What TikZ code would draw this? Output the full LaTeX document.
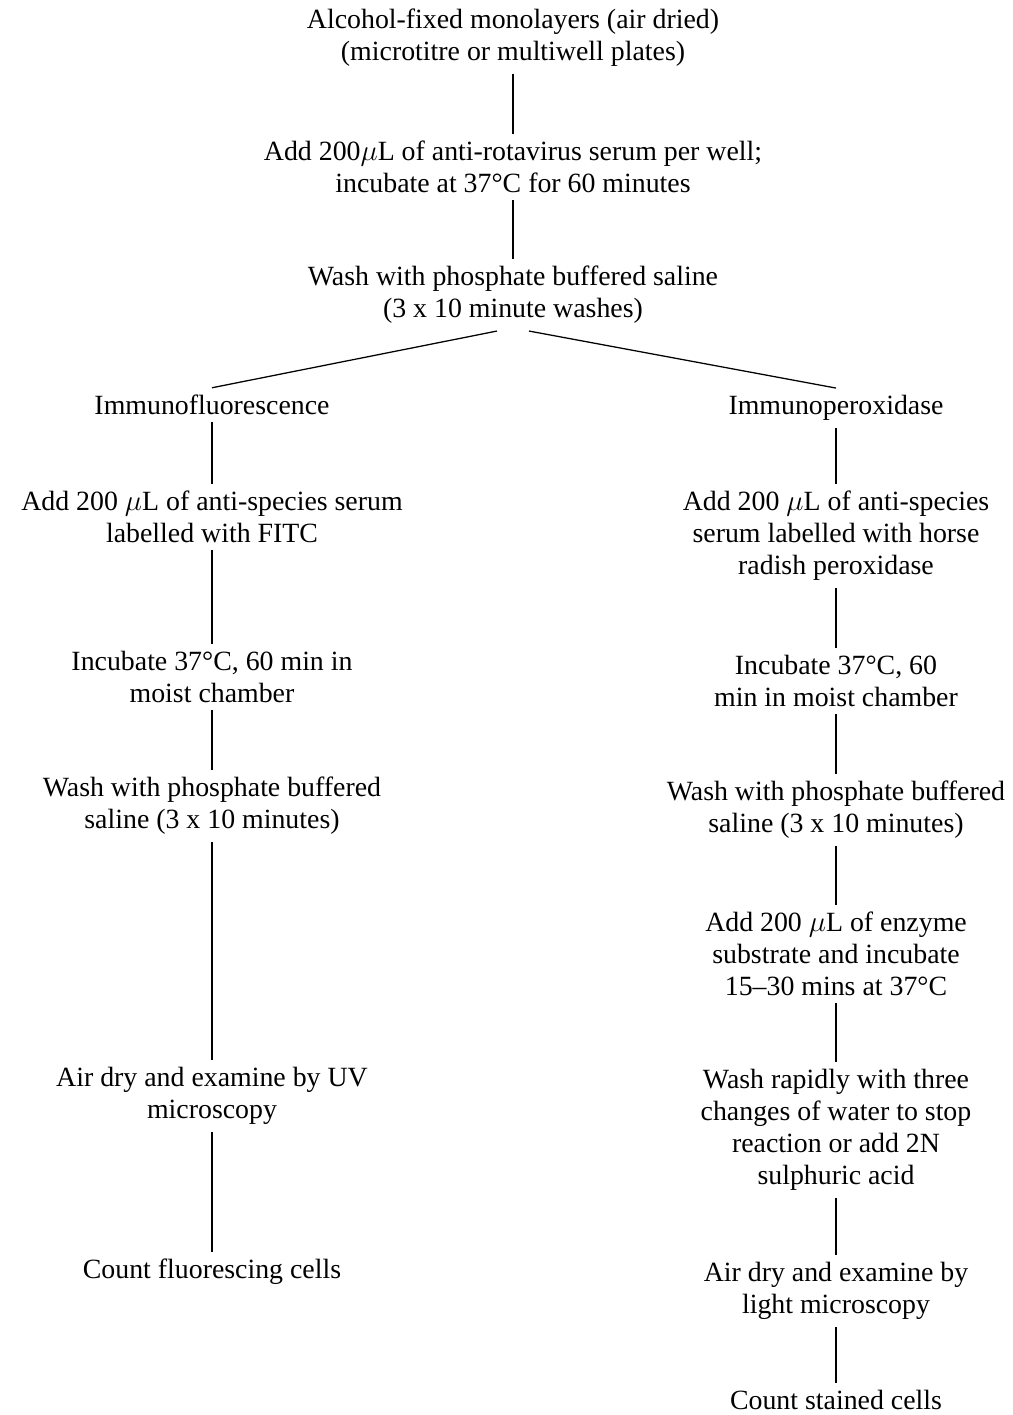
\documentclass[tikz,border=0pt]{standalone}
\usepackage{fontspec}
\setmainfont{Liberation Serif}
\usetikzlibrary{positioning}

\begin{document}
\begin{tikzpicture}[
        x=0.025cm, y=-0.025cm,
        stage/.style={align=center, inner xsep=0pt, inner ysep=5pt,
          font=\fontsize{19.8}{22.7}\selectfont},
        link/.style={line width=0.9pt}
        ]
        \useasboundingbox (0,0) rectangle (1013,1415);

        % common trunk
        \node[stage] (top)    at (513,38)  {Alcohol-fixed monolayers (air dried)\\(microtitre or multiwell plates)};
        \node[stage] (serum)  at (513,167) {Add 200$\mu$L of anti-rotavirus serum per well;\\incubate at 37°C for 60 minutes};
        \node[stage] (wash)   at (513,295) {Wash with phosphate buffered saline\\(3 x 10 minute washes)};

        % immunofluorescence
        \node[stage] (fluor)  at (212,405)  {Immunofluorescence};
        \node[stage] (fitc)   at (212,517)  {Add 200 $\mu$L of anti-species serum\\labelled with FITC};
        \node[stage] (incL)   at (212,677)  {Incubate 37°C, 60 min in\\moist chamber};
        \node[stage] (washL)  at (212,806)  {Wash with phosphate buffered\\saline (3 x 10 minutes)};
        \node[stage] (uv)     at (212,1096) {Air dry and examine by UV\\microscopy};
        \node[stage] (countL) at (212,1272) {Count fluorescing cells};

        % immunoperoxidase
        \node[stage] (perox)     at (836,408)  {Immunoperoxidase};
        \node[stage] (hrp)       at (836,536)  {Add 200 $\mu$L of anti-species\\serum labelled with horse\\radish peroxidase};
        \node[stage] (incR)      at (836,681)  {Incubate 37°C, 60\\min in moist chamber};
        \node[stage] (washR)     at (836,810)  {Wash with phosphate buffered\\saline (3 x 10 minutes)};
        \node[stage] (substrate) at (836,954)  {Add 200 $\mu$L of enzyme\\substrate and incubate\\15–30 mins at 37°C};
        \node[stage] (rinse)     at (836,1130) {Wash rapidly with three\\changes of water to stop\\reaction or add 2N\\sulphuric acid};
        \node[stage] (light)     at (836,1291) {Air dry and examine by\\light microscopy};
        \node[stage] (countR)    at (836,1400) {Count stained cells};

        \foreach \u/\v in {top/serum, serum/wash,
            fluor/fitc, fitc/incL, incL/washL, washL/uv, uv/countL,
            perox/hrp, hrp/incR, incR/washR, washR/substrate,
            substrate/rinse, rinse/light, light/countR}
          \path[link] (\u) edge (\v);

        \draw[link] ([shift={(-16,0)}]wash.south) -- (fluor.north);
        \draw[link] ([shift={(16,0)}]wash.south) -- (perox.north);
      \end{tikzpicture}
\end{document}
